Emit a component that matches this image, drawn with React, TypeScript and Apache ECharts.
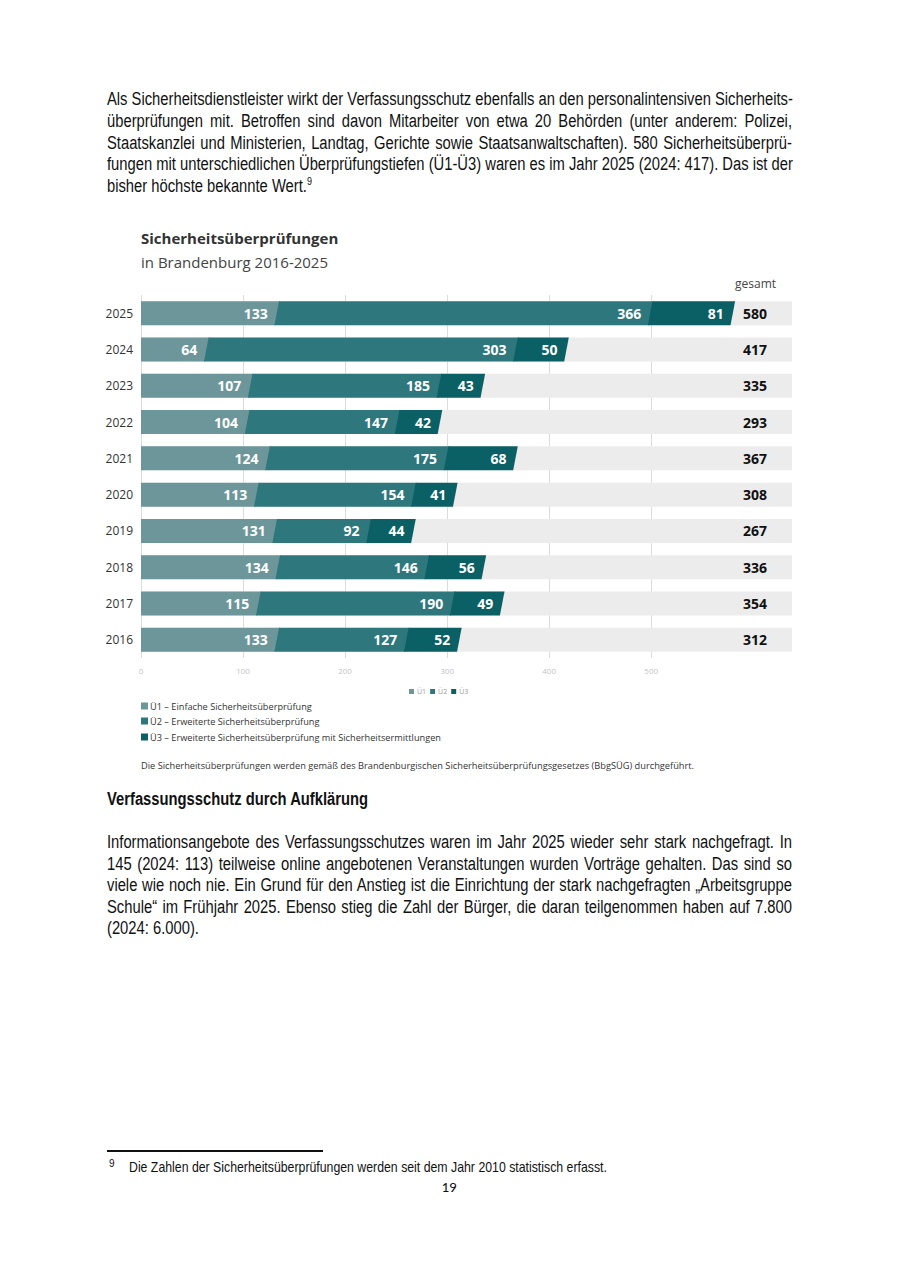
import React, { useEffect, useRef } from 'react';
import * as echarts from 'echarts';

// ---------- data ----------
const years = ['2016', '2017', '2018', '2019', '2020', '2021', '2022', '2023', '2024', '2025'];
const u1 = [133, 115, 134, 131, 113, 124, 104, 107, 64, 133];
const u2 = [127, 190, 146, 92, 154, 175, 147, 185, 303, 366];
const u3 = [52, 49, 56, 44, 41, 68, 42, 43, 50, 81];
const totals = [312, 354, 336, 267, 308, 367, 293, 335, 417, 580];
const xTicks = [0, 100, 200, 300, 400, 500];
const seriesNames = ['Ü1', 'Ü2', 'Ü3'];
const legendTexts = [
  'Ü1 – Einfache Sicherheitsüberprüfung',
  'Ü2 – Erweiterte Sicherheitsüberprüfung',
  'Ü3 – Erweiterte Sicherheitsüberprüfung mit Sicherheitsermittlungen',
];

const p1Lines = [
  'Als Sicherheitsdienstleister wirkt der Verfassungsschutz ebenfalls an den personalintensiven Sicherheits-',
  'überprüfungen mit. Betroffen sind davon Mitarbeiter von etwa 20 Behörden (unter anderem: Polizei,',
  'Staatskanzlei und Ministerien, Landtag, Gerichte sowie Staatsanwaltschaften). 580 Sicherheitsüberprü-',
  'fungen mit unterschiedlichen Überprüfungstiefen (Ü1-Ü3) waren es im Jahr 2025 (2024: 417). Das ist der',
  'bisher höchste bekannte Wert.',
];
const p2Lines = [
  'Informationsangebote des Verfassungsschutzes waren im Jahr 2025 wieder sehr stark nachgefragt. In',
  '145 (2024: 113) teilweise online angebotenen Veranstaltungen wurden Vorträge gehalten. Das sind so',
  'viele wie noch nie. Ein Grund für den Anstieg ist die Einrichtung der stark nachgefragten „Arbeitsgruppe',
  'Schule“ im Frühjahr 2025. Ebenso stieg die Zahl der Bürger, die daran teilgenommen haben auf 7.800',
  '(2024: 6.000).',
];

const COLORS = ['#6d969b', '#2e777c', '#0b6065'];
const BG = '#ececec';
const X_MAX = 638;
const SLANT = 2.3;
const FONT = '"Open Sans", "Noto Sans", sans-serif';

const levels = [u1, u2, u3];

function segData(k: number) {
  return years.map((_, i) => {
    let start = 0;
    for (let j = 0; j < k; j++) start += levels[j][i];
    return [i, start, start + levels[k][i], levels[k][i]];
  });
}

function segRender(k: number) {
  return (params: any, api: any) => {
    const idx = api.value(0);
    const p0 = api.coord([api.value(1), idx]);
    const p1 = api.coord([api.value(2), idx]);
    const band = api.size([0, 1])[1];
    const h = band * 0.66;
    const cy = p0[1];
    const top = cy - h / 2;
    const bot = cy + h / 2;
    const sa = k === 0 ? 0 : SLANT;
    const ext = k < 2 ? 1 : 0;
    const a = p0[0];
    const b = p1[0];
    return {
      type: 'group',
      children: [
        {
          type: 'polygon',
          shape: {
            points: [
              [a + sa, top],
              [b + SLANT + ext, top],
              [b - SLANT + ext, bot],
              [a - sa, bot],
            ],
          },
          style: { fill: COLORS[k] },
        },
        {
          type: 'text',
          x: b - 9,
          y: cy,
          style: {
            text: String(api.value(3)),
            fill: '#ffffff',
            font: `bold 14px ${FONT}`,
            align: 'right',
            verticalAlign: 'middle',
          },
        },
      ],
    };
  };
}

function bgRender(params: any, api: any) {
  const idx = api.value(0);
  const p0 = api.coord([0, idx]);
  const p1 = api.coord([X_MAX, idx]);
  const band = api.size([0, 1])[1];
  const h = band * 0.66;
  const cy = p0[1];
  return {
    type: 'group',
    children: [
      { type: 'rect', shape: { x: p0[0], y: cy - h / 2, width: p1[0] - p0[0], height: h }, style: { fill: BG } },
      {
        type: 'text',
        x: p1[0] - 25,
        y: cy,
        style: {
          text: String(api.value(1)),
          fill: '#111111',
          font: `bold 14px ${FONT}`,
          align: 'right',
          verticalAlign: 'middle',
        },
      },
    ],
  };
}

function buildOption(): any {
  const legendGraphics: any[] = [];
  legendTexts.forEach((t, i) => {
    const y = [486, 501, 517][i];
    legendGraphics.push({ type: 'rect', shape: { x: 141, y: y - 3.5, width: 7, height: 7 }, style: { fill: COLORS[i] } });
    legendGraphics.push({
      type: 'text',
      x: 150,
      y,
      style: { text: t, fill: '#333', font: `9.2px ${FONT}`, verticalAlign: 'middle' },
    });
  });
  return {
    animation: false,
    textStyle: { fontFamily: FONT },
    grid: { left: 141, right: 108, top: 75, bottom: 132 },
    xAxis: {
      type: 'value',
      min: 0,
      max: X_MAX,
      axisLine: { show: false },
      axisTick: { show: false, customValues: xTicks },
      axisLabel: { customValues: xTicks, fontSize: 8, color: '#c4c4c4', margin: 8 },
      splitLine: { show: true, lineStyle: { color: '#dcdcdc', width: 1 } },
    },
    yAxis: {
      type: 'category',
      data: years,
      axisLine: { show: false },
      axisTick: { show: false },
      axisLabel: { fontSize: 12, color: '#333', margin: 8 },
    },
    legend: {
      data: seriesNames,
      left: 404,
      top: 463,
      icon: 'rect',
      itemWidth: 5,
      itemHeight: 5,
      itemGap: 4,
      selectedMode: false,
      textStyle: { fontSize: 7, color: '#999', padding: [0, 0, 0, -2] },
    },
    graphic: [
      { type: 'text', x: 141, y: 18, style: { text: 'Sicherheitsüberprüfungen', fill: '#333', font: `bold 15px ${FONT}`, verticalAlign: 'middle' } },
      { type: 'text', x: 141, y: 42, style: { text: 'in Brandenburg 2016-2025', fill: '#444', font: `15px ${FONT}`, verticalAlign: 'middle' } },
      { type: 'text', x: 735, y: 63, style: { text: 'gesamt', fill: '#444', font: `12px ${FONT}`, verticalAlign: 'middle' } },
      ...legendGraphics,
      {
        type: 'text',
        x: 141,
        y: 545,
        style: {
          text: 'Die Sicherheitsüberprüfungen werden gemäß des Brandenburgischen Sicherheitsüberprüfungsgesetzes (BbgSÜG) durchgeführt.',
          fill: '#333',
          font: `9.25px ${FONT}`,
          verticalAlign: 'middle',
        },
      },
    ],
    series: [
      {
        type: 'custom',
        name: 'bg',
        z: 1,
        silent: true,
        encode: { x: 1, y: 0 },
        data: years.map((_, i) => [i, totals[i]]),
        renderItem: bgRender,
      },
      ...seriesNames.map((name, k) => ({
        type: 'custom',
        name,
        z: 2 + k,
        itemStyle: { color: COLORS[k] },
        encode: { x: [1, 2], y: 0 },
        data: segData(k),
        renderItem: segRender(k),
      })),
    ],
  };
}

const SCALE = 0.82;
const TEXT_LEFT = 107;
const TEXT_W = 685;

function TextLine(props: { children: any; top: number; justify?: boolean; bold?: boolean; size?: number }) {
  const { children, top, justify, bold, size = 18 } = props;
  return (
    <div
      style={{
        position: 'absolute',
        left: TEXT_LEFT,
        top,
        width: TEXT_W / SCALE,
        transform: `scaleX(${SCALE})`,
        transformOrigin: '0 0',
        fontFamily: '"Liberation Sans", Arial, sans-serif',
        fontSize: size,
        lineHeight: '22px',
        whiteSpace: 'nowrap',
        textAlign: justify ? 'justify' : 'left',
        textAlignLast: justify ? 'justify' : 'left',
        fontWeight: bold ? 700 : 400,
        color: '#111',
      }}
    >
      {children}
    </div>
  );
}

export default function App() {
  const ref = useRef<HTMLDivElement>(null);
  useEffect(() => {
    const chart = echarts.init(ref.current as HTMLDivElement, null, { renderer: 'svg' });
    chart.setOption(buildOption());
    return () => chart.dispose();
  }, []);

  const p1Y = [100, 122, 144, 165, 187];
  const p2Y = [843, 865, 886, 908, 929];

  return (
    <div style={{ position: 'absolute', left: 0, top: 0, width: 900, height: 1272, background: '#fff', overflow: 'hidden' }}>
      {p1Lines.map((t, i) => (
        <TextLine key={'a' + i} top={p1Y[i] - 12} justify={i < p1Lines.length - 1}>
          {t}
          {i === p1Lines.length - 1 ? <sup style={{ fontSize: 11, lineHeight: 0 }}>9</sup> : null}
        </TextLine>
      ))}
      <TextLine top={800 - 12} bold>
        Verfassungsschutz durch Aufklärung
      </TextLine>
      {p2Lines.map((t, i) => (
        <TextLine key={'b' + i} top={p2Y[i] - 12} justify={i < p2Lines.length - 1}>
          {t}
        </TextLine>
      ))}
      <div style={{ position: 'absolute', left: 107, top: 1150, width: 216, height: 1.5, background: '#111' }} />
      <div style={{ position: 'absolute', left: 109, top: 1158, fontFamily: '"Liberation Sans", Arial, sans-serif', fontSize: 10, color: '#111' }}>9</div>
      <div
        style={{
          position: 'absolute',
          left: 129,
          top: 1158,
          transform: `scaleX(${SCALE})`,
          transformOrigin: '0 0',
          whiteSpace: 'nowrap',
          fontFamily: '"Liberation Sans", Arial, sans-serif',
          fontSize: 15,
          lineHeight: '18px',
          color: '#111',
        }}
      >
        Die Zahlen der Sicherheitsüberprüfungen werden seit dem Jahr 2010 statistisch erfasst.
      </div>
      <div
        style={{
          position: 'absolute',
          left: 0,
          width: 898,
          top: 1177,
          textAlign: 'center',
          fontFamily: 'Carlito, "Open Sans", sans-serif',
          fontSize: 15,
          lineHeight: '20px',
          color: '#111',
        }}
      >
        19
      </div>
      <div ref={ref} style={{ position: 'absolute', left: 0, top: 220, width: 900, height: 570 }} />
    </div>
  );
}
